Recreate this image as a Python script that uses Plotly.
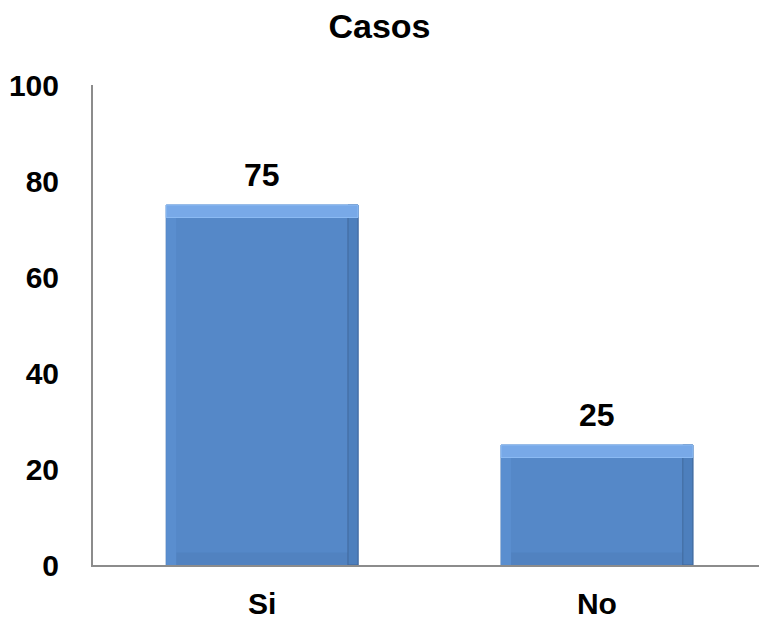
import plotly.graph_objects as go

categories = ["Si", "No"]
values = [75, 25]
tick_vals = [0, 20, 40, 60, 80, 100]
title_text = "Casos"

FONT = "Liberation Sans, Arial, sans-serif"
BAR_W = 0.573
BEVEL = 2.6      # top/bottom bevel thickness in y units
SIDE = 0.03      # side bevel thickness in x units

fig = go.Figure()

def add_bar(y, base=None, width=BAR_W, offset=None, color="#5588c8", line=None):
    fig.add_trace(go.Bar(
        x=categories, y=y, base=base, width=width, offset=offset,
        marker=dict(color=color, line=line or dict(width=0)),
        hoverinfo="skip", showlegend=False,
    ))

# main bar body
add_bar(values, color="#5588c8", line=dict(color="#4a78b4", width=1))
# bottom bevel (darker)
add_bar([BEVEL] * len(values), base=[0] * len(values), color="#5182c0")
# left bevel (slightly lighter)
add_bar(values, width=SIDE, offset=-BAR_W / 2, color="#5a8ecf")
# right bevel (darker)
add_bar(values, width=SIDE, offset=BAR_W / 2 - SIDE, color="#4d7fbd",
        line=dict(color="#41699c", width=1))
# top bevel highlight
add_bar([BEVEL] * len(values), base=[v - BEVEL for v in values], color="#78a9e8",
        line=dict(color="#8cbcf4", width=1))

for c, v in zip(categories, values):
    fig.add_annotation(
        x=c, y=v, text=f"<b>{v}</b>", showarrow=False,
        yanchor="bottom", yshift=10,
        font=dict(family=FONT, size=32, color="#000000"),
    )

tick_font = dict(family=FONT, size=30, color="#000000", weight="bold")

fig.update_layout(
    width=759, height=619,
    barmode="overlay",
    paper_bgcolor="white", plot_bgcolor="white",
    margin=dict(l=93, r=0, t=85, b=54, autoexpand=False),
    title=dict(text=f"<b>{title_text}</b>", x=0.5, xanchor="center",
               y=1 - 26 / 619, yanchor="middle",
               font=dict(family=FONT, size=34, color="#000000")),
    xaxis=dict(
        range=[-0.505, 1.484], showgrid=False, zeroline=False,
        showline=True, linecolor="#8c8c8c", linewidth=2,
        ticks="", ticklabelstandoff=11,
        tickfont=tick_font,
    ),
    yaxis=dict(
        range=[0, 100], tickvals=tick_vals, showgrid=False, zeroline=False,
        showline=True, linecolor="#8c8c8c", linewidth=2,
        ticks="", ticklabelstandoff=26,
        tickfont=tick_font,
    ),
)

fig.write_html("out.html", config={"displayModeBar": False})
with open("out.html", "r", encoding="utf-8") as f:
    html = f.read()
html = html.replace("<head>", "<head><style>html,body{margin:0;padding:0;overflow:hidden;}</style>", 1)
with open("out.html", "w", encoding="utf-8") as f:
    f.write(html)
